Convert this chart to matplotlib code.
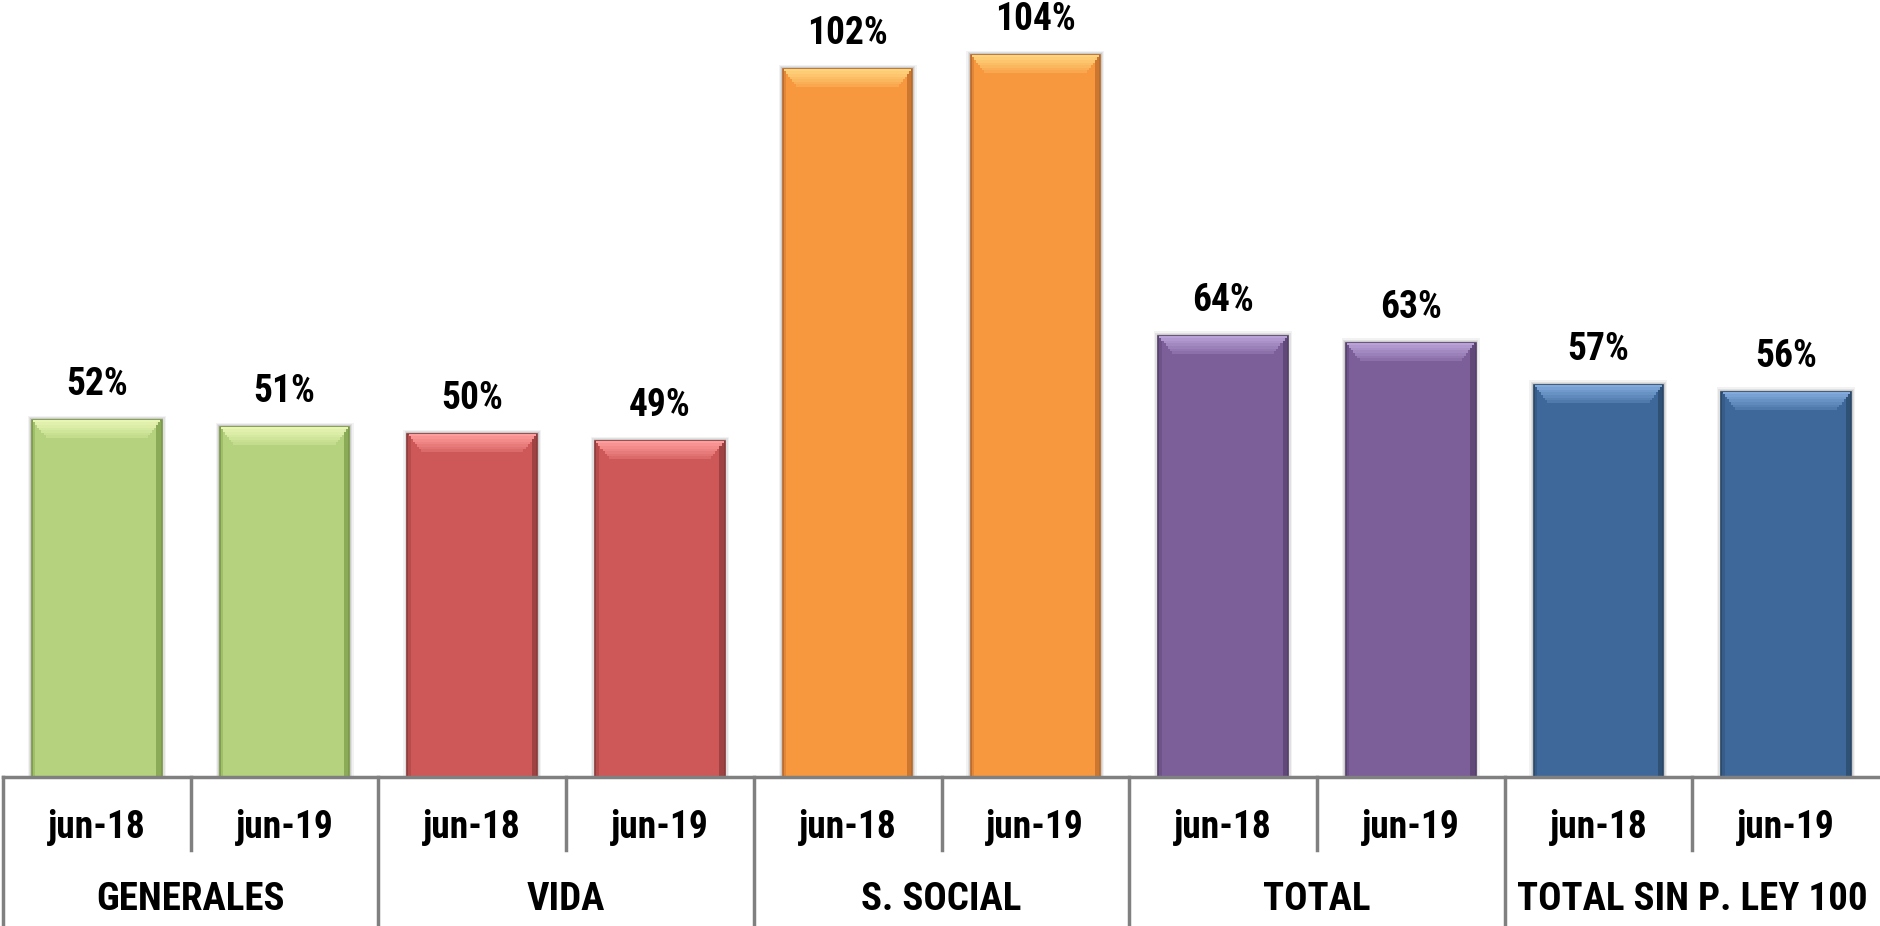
import matplotlib.pyplot as plt
import matplotlib.transforms as mtransforms
from matplotlib import font_manager
import numpy as np

groups = ['GENERALES', 'VIDA', 'S. SOCIAL', 'TOTAL', 'TOTAL SIN P. LEY 100']
periods = ['jun-18', 'jun-19']
values = [52, 51, 50, 49, 102, 104, 64, 63, 57, 56]

# main / highlight / dark edge per group
base_colors = ['#B5D37E', '#CE5858', '#F8983E', '#7C5E98', '#3E689A']
light_colors = ['#E8F6B4', '#FF9C9C', '#FFD47C', '#B9A2D8', '#82AADC']
dark_colors = ['#7B9A48', '#8C3A3A', '#B8692A', '#55406C', '#2A4868']

# the reference uses a narrow bold face; take a condensed one if installed
installed = {f.name for f in font_manager.fontManager.ttflist}
narrow = [f for f in ['Liberation Sans Narrow', 'Arial Narrow', 'Roboto Condensed',
                      'Open Sans Condensed', 'DejaVu Sans Condensed'] if f in installed]
if narrow:
    family = [narrow[0], 'DejaVu Sans']
    fs_val, fs_tick, fs_grp = 27, 27, 28
else:
    family = ['Liberation Sans', 'DejaVu Sans']
    fs_val, fs_tick, fs_grp = 23, 23, 20.5
plt.rcParams['font.family'] = family

W, H = 1880, 926
fig = plt.figure(figsize=(W / 100, H / 100), dpi=100)
ax = fig.add_axes([3 / W, (H - 777) / H, (W - 3) / W, 777 / H])

n = len(values)
x = np.arange(n)
bw = 0.69
face = [base_colors[i // 2] for i in range(n)]
light = [light_colors[i // 2] for i in range(n)]
dark = [dark_colors[i // 2] for i in range(n)]
vals = np.array(values, dtype=float)

# soft shadow behind the bars
for k, a in enumerate([0.05, 0.07, 0.09]):
    grow = 0.045 - k * 0.014
    ax.bar(x, vals + 0.6 - k * 0.2, width=bw + grow, color='#000000', alpha=a, linewidth=0, zorder=1)

ax.bar(x, vals, width=bw, color=face, edgecolor=dark, linewidth=1.2, zorder=2)

# right/left darker strips
ax.bar(x + bw / 2 - 0.014, vals, width=0.028, color=dark, alpha=0.7, linewidth=0, zorder=3)
ax.bar(x - bw / 2 + 0.009, vals, width=0.018, color=dark, alpha=0.35, linewidth=0, zorder=3)

# bevel highlight on top (stepped trapezoid)
bev = 2.6
steps = 7
for s in range(steps):
    h = bev / steps
    inset = 0.006 + s * 0.011
    alpha = 1.0 - s * 0.12
    ax.bar(x, h, bottom=vals - (s + 1) * h, width=bw - 2 * inset, color=light,
           alpha=alpha, linewidth=0, zorder=4)

for xi, v in zip(x, values):
    ax.annotate(f'{v}%', (xi, v), xytext=(0, 12), textcoords='offset points',
                ha='center', va='bottom', fontsize=fs_val, fontweight='bold', color='black')

ax.set_xlim(-0.5, n - 0.5)
ax.set_ylim(1.1, 111.8)
ax.axis('off')

# category table below the axis
tr = mtransforms.blended_transform_factory(ax.transData, fig.transFigure)
line_kw = dict(color='#808080', linewidth=2.5, transform=tr, clip_on=False, zorder=5)
y_axis = (H - 777) / H
y_mid = (H - 850) / H
ax.plot([-0.5, n - 0.5], [y_axis, y_axis], **line_kw)
for b in np.arange(-0.5, n - 1, 1.0):
    if int(b + 0.5) % 2 == 0:
        ax.plot([b, b], [y_axis, 0], **line_kw)
    else:
        ax.plot([b, b], [y_axis, y_mid], **line_kw)

for xi in x:
    ax.text(xi, (H - 828) / H, periods[xi % 2], transform=tr, ha='center', va='center',
            fontsize=fs_tick, fontweight='bold')
for gi, g in enumerate(groups):
    ax.text(2 * gi + 0.5, (H - 900) / H, g, transform=tr, ha='center', va='center',
            fontsize=fs_grp, fontweight='bold')

fig.savefig('out.png', dpi=100)
